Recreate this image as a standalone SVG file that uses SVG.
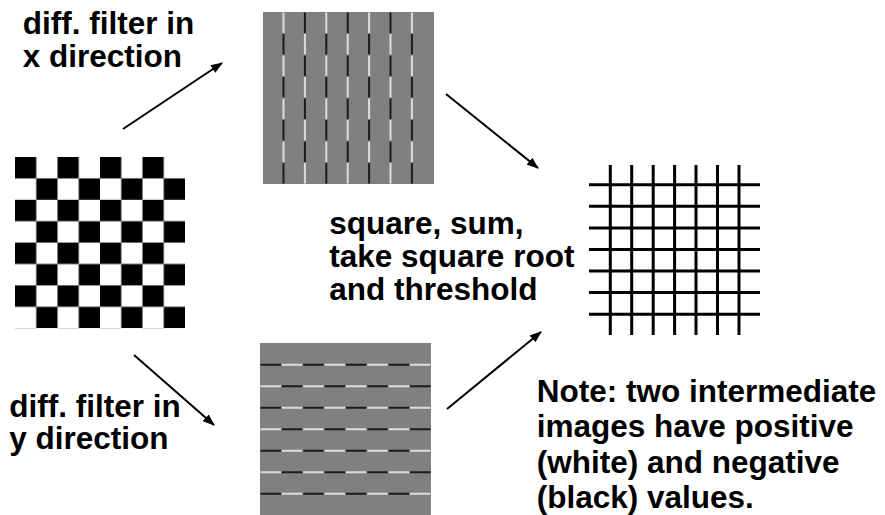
<svg xmlns="http://www.w3.org/2000/svg" width="885" height="515" viewBox="0 0 885 515">
<style>
text{font-family:"Liberation Sans",Arial,sans-serif;font-weight:bold;font-size:31.5px;fill:#000}
.arrow{stroke:#000;stroke-width:2;fill:none;marker-end:url(#ah)}
.lt{stroke:#dcdcdc;stroke-width:2;fill:none}
.dk{stroke:#1c1c1c;stroke-width:2;fill:none}
.grid{stroke:#000;stroke-width:3;fill:none}
</style>
<defs>
<marker id="ah" markerUnits="userSpaceOnUse" markerWidth="12" markerHeight="9" refX="11" refY="4.5" orient="auto">
<path d="M0,0 L12,4.5 L0,9 z" fill="#000"/>
</marker>
<pattern id="chk" patternUnits="userSpaceOnUse" x="15" y="157" width="42.5" height="42.8">
<rect x="0" y="0" width="42.5" height="42.8" fill="#fff"/>
<rect x="0" y="0" width="21.25" height="21.4" fill="#000"/>
<rect x="21.25" y="21.4" width="21.25" height="21.4" fill="#000"/>
</pattern>
</defs>
<rect width="885" height="515" fill="#fff"/>

<g id="checkerboard">
<rect x="15" y="157" width="170" height="171.2" fill="url(#chk)"/>
</g>

<g id="xderiv">
<rect x="263" y="12" width="171" height="172" fill="#808080"/>
<path class="lt" d="M283.5 12.5V33M283.5 55.5V76M283.5 98.5V119M283.5 141.5V162
M326.3 12.5V33M326.3 55.5V76M326.3 98.5V119M326.3 141.5V162
M369.1 12.5V33M369.1 55.5V76M369.1 98.5V119M369.1 141.5V162
M411.9 12.5V33M411.9 55.5V76M411.9 98.5V119M411.9 141.5V162
M304.9 34V54.5M304.9 77V97.5M304.9 120V140.5M304.9 163V183.5
M347.7 34V54.5M347.7 77V97.5M347.7 120V140.5M347.7 163V183.5
M390.5 34V54.5M390.5 77V97.5M390.5 120V140.5M390.5 163V183.5"/>
<path class="dk" d="M283.5 34V54.5M283.5 77V97.5M283.5 120V140.5M283.5 163V183.5
M326.3 34V54.5M326.3 77V97.5M326.3 120V140.5M326.3 163V183.5
M369.1 34V54.5M369.1 77V97.5M369.1 120V140.5M369.1 163V183.5
M411.9 34V54.5M411.9 77V97.5M411.9 120V140.5M411.9 163V183.5
M304.9 12.5V33M304.9 55.5V76M304.9 98.5V119M304.9 141.5V162
M347.7 12.5V33M347.7 55.5V76M347.7 98.5V119M347.7 141.5V162
M390.5 12.5V33M390.5 55.5V76M390.5 98.5V119M390.5 141.5V162"/>
</g>

<g id="yderiv">
<rect x="260" y="343" width="171" height="172" fill="#808080"/>
<path class="dk" d="M260.5 364.8H281M303.2 364.8H323.7M345.9 364.8H366.4M388.7 364.8H409.2
M260.5 407.8H281M303.2 407.8H323.7M345.9 407.8H366.4M388.7 407.8H409.2
M260.5 450.8H281M303.2 450.8H323.7M345.9 450.8H366.4M388.7 450.8H409.2
M260.5 493.8H281M303.2 493.8H323.7M345.9 493.8H366.4M388.7 493.8H409.2
M281.8 386.3H302.3M324.6 386.3H345.1M367.3 386.3H387.8M410 386.3H430.5
M281.8 429.3H302.3M324.6 429.3H345.1M367.3 429.3H387.8M410 429.3H430.5
M281.8 472.3H302.3M324.6 472.3H345.1M367.3 472.3H387.8M410 472.3H430.5"/>
<path class="lt" d="M281.8 364.8H302.3M324.6 364.8H345.1M367.3 364.8H387.8M410 364.8H430.5
M281.8 407.8H302.3M324.6 407.8H345.1M367.3 407.8H387.8M410 407.8H430.5
M281.8 450.8H302.3M324.6 450.8H345.1M367.3 450.8H387.8M410 450.8H430.5
M281.8 493.8H302.3M324.6 493.8H345.1M367.3 493.8H387.8M410 493.8H430.5
M260.5 386.3H281M303.2 386.3H323.7M345.9 386.3H366.4M388.7 386.3H409.2
M260.5 429.3H281M303.2 429.3H323.7M345.9 429.3H366.4M388.7 429.3H409.2
M260.5 472.3H281M303.2 472.3H323.7M345.9 472.3H366.4M388.7 472.3H409.2"/>
</g>

<g id="edges">
<path class="grid" d="M610.3 165V335M631.7 165V335M653.2 165V335M674.6 165V335M696 165V335M717.5 165V335M739 165V335
M589 184.7H760M589 206.3H760M589 227.9H760M589 249.4H760M589 271H760M589 292.6H760M589 314.2H760"/>
</g>

<g id="connectors">
<line class="arrow" x1="123" y1="129" x2="222" y2="63"/>
<line class="arrow" x1="446" y1="94" x2="538" y2="168"/>
<line class="arrow" x1="134" y1="355" x2="214" y2="425"/>
<line class="arrow" x1="447" y1="409" x2="541" y2="332"/>
</g>

<g id="label-x">
<text x="22.7" y="34.3">diff. filter in</text>
<text x="22.7" y="66.7">x direction</text>
</g>
<g id="label-combine">
<text x="329.3" y="233.5">square, sum,</text>
<text x="329.3" y="266.5">take square root</text>
<text x="329.3" y="300">and threshold</text>
</g>
<g id="label-y">
<text x="9.3" y="416.7">diff. filter in</text>
<text x="9.3" y="448.7">y direction</text>
</g>
<g id="note">
<text x="536.7" y="401.7">Note: two intermediate</text>
<text x="536.7" y="437">images have positive</text>
<text x="536.7" y="472.5">(white) and negative</text>
<text x="536.7" y="508">(black) values.</text>
</g>
</svg>
